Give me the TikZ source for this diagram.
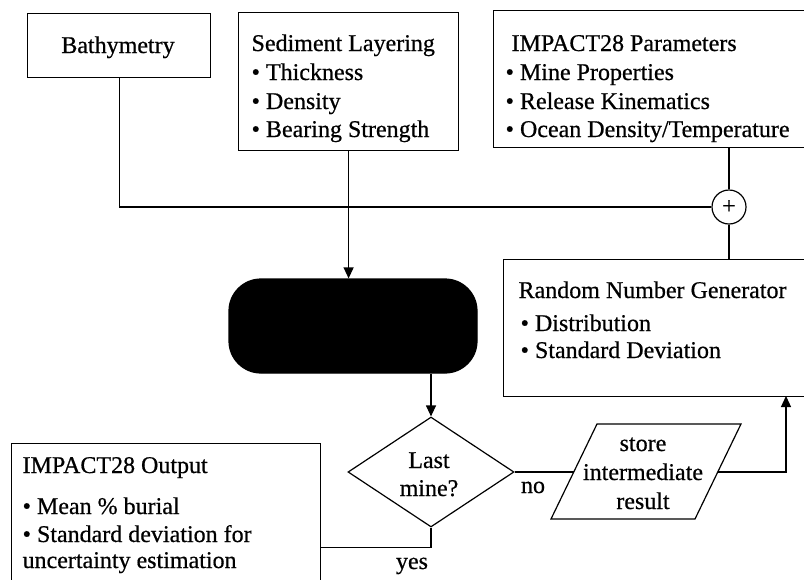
\documentclass[tikz,border=0pt]{standalone}
\usepackage{fontspec}
\setmainfont{Liberation Serif}[FakeBold=0.6]
\usetikzlibrary{arrows.meta,shapes.geometric}
\begin{document}
\begin{tikzpicture}[x=1pt,y=-1pt,
  line width=1.2pt,
  every node/.style={font=\fontsize{24}{29}\selectfont},
  panel/.style={draw, rectangle, inner sep=0pt, anchor=north west},
  txt/.style={anchor=base west, inner sep=0pt},
  ctr/.style={anchor=base, inner sep=0pt},
  flow/.style={-{Triangle[length=11pt,width=10pt]}},
]
\useasboundingbox (0,0) rectangle (804,579);
\clip (0,0) rectangle (804,579);

% input panels
\node[panel, minimum width=183pt, minimum height=64pt] (bath) at (27,13) {};
\node[ctr] (bathT) at (118,53) {Bathymetry};

\node[panel, minimum width=220pt, minimum height=138pt] (sed) at (238,12) {};
\node[txt] (sed1) at (251,51) {Sediment Layering};
\node[txt] (sed2) at (251,80) {•~Thickness};
\node[txt] (sed3) at (251,109) {•~Density};
\node[txt] (sed4) at (251,137) {•~Bearing Strength};

\node[panel, minimum width=313pt, minimum height=137pt] (par) at (493,10) {};
\node[txt] (par1) at (511,51) {IMPACT28 Parameters};
\node[txt] (par2) at (505,80) {•~Mine Properties};
\node[txt] (par3) at (505,109) {•~Release Kinematics};
\node[txt] (par4) at (505,137) {•~Ocean Density/Temperature};

% summing junction
\node[draw, circle, minimum size=34pt, inner sep=0pt] (plus) at (729,207) {+};

% random number generator
\node[panel, minimum width=303pt, minimum height=137pt] (rng) at (503,259) {};
\node[txt] (rng1) at (518,298) {Random Number Generator};
\node[txt] (rng2) at (520,331) {•~Distribution};
\node[txt] (rng3) at (520,358) {•~Standard Deviation};

% model run (solid black terminator)
\node[draw, fill=black, rectangle, rounded corners=32pt, minimum width=248pt,
      minimum height=94pt] (blk) at (353,326) {};

% decision
\node[draw, diamond, minimum width=166pt, minimum height=110pt, inner sep=0pt]
      (dec) at (431,472) {};
\node[ctr] (dec1) at (429,468) {Last};
\node[ctr] (dec2) at (429,496) {mine?};

% intermediate storage (parallelogram)
\coordinate (stTL) at (597,424);
\coordinate (stTR) at (741,424);
\coordinate (stBR) at (695,519);
\coordinate (stBL) at (551,519);
\coordinate (stL) at (574,472);
\coordinate (stR) at (718,472);
\draw (stTL) -- (stTR) -- (stBR) -- (stBL) -- cycle;
\node[ctr] (st1) at (643,451) {store};
\node[ctr] (st2) at (643,480) {intermediate};
\node[ctr] (st3) at (643,509) {result};

% output panel
\node[panel, minimum width=309pt, minimum height=208pt] (out) at (11,443) {};
\node[txt] (out1) at (22,473) {IMPACT28 Output};
\node[txt] (out2) at (22,514) {•~Mean \%~burial};
\node[txt] (out3) at (22,542) {•~Standard deviation for};
\node[txt] (out4) at (22,568) {uncertainty estimation};

% connectors
\draw (bath.south) |- (plus.west);
\draw (plus |- par.south) -- (plus.north);
\draw (plus.south) -- (plus |- rng.north);
\draw[flow] (sed.south) -- (sed.south |- blk.north);
\draw[flow] (dec.north |- blk.south) -- (dec.north);
\draw (dec.east) -- (stL);
\coordinate (rngIn) at (786,396);
\draw[flow] (stR) -| (rngIn);
\draw (dec.south) |- (out.east);

% branch labels
\node[ctr] (no) at (533,493) {no};
\node[ctr] (yes) at (412,569) {yes};
\end{tikzpicture}
\end{document}
